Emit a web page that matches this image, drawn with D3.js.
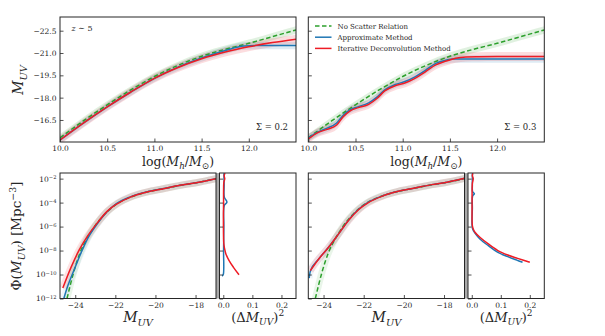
<!DOCTYPE html>
<html>
<head>
<meta charset="utf-8">
<script src="https://cdn.jsdelivr.net/npm/d3@7"></script>
<style>
  body { margin: 0; background: #fff; }
  svg { font-family: "DejaVu Serif", serif; }
</style>
</head>
<body>
<script>
// ---- top row: M_UV vs halo mass (z ~ 5) ----
var mhGrid = [10.0, 10.25, 10.5, 10.75, 11.0, 11.25, 11.5, 11.75, 12.0, 12.25, 12.5];
var noScatterMuv = [-15.3, -16.45, -17.52, -18.52, -19.42, -20.17, -20.78, -21.25, -21.65, -22.1, -22.55];

var iterMuvS02 = [-15.15, -16.3, -17.38, -18.38, -19.3, -20.03, -20.62, -21.07, -21.42, -21.7, -21.93];
var approxMhS02 = [10.0, 10.25, 10.5, 10.75, 11.0, 11.25, 11.5, 11.75, 11.95, 12.1, 12.5];
var approxMuvS02 = [-15.15, -16.3, -17.38, -18.38, -19.3, -20.05, -20.66, -21.17, -21.47, -21.5, -21.5];

var mhS03 = [10.0, 10.1, 10.2, 10.3, 10.37, 10.44, 10.53, 10.64, 10.73, 10.81, 10.92, 11.03, 11.13, 11.24, 11.35, 11.46, 11.56, 11.67, 11.8, 12.0, 12.5];
var iterMuvS03 = [-15.22, -15.65, -15.87, -16.16, -16.72, -17.1, -17.33, -17.55, -17.96, -18.45, -18.8, -19.0, -19.3, -19.74, -20.2, -20.46, -20.65, -20.73, -20.75, -20.76, -20.77];
var approxMhS03 = [10.0, 10.1, 10.2, 10.3, 10.37, 10.44, 10.53, 10.64, 10.73, 10.81, 10.92, 11.03, 11.13, 11.24, 11.35, 11.46, 11.53, 11.6, 12.5];
var approxMuvS03 = [-15.3, -15.68, -15.95, -16.3, -16.82, -17.18, -17.4, -17.65, -18.05, -18.52, -18.88, -19.1, -19.4, -19.84, -20.3, -20.52, -20.6, -20.6, -20.6];

// half-width of the shaded bands (mag)
var errNoScatter = 0.25, errApprox = 0.25, errIter = 0.3;

// ---- bottom row: luminosity functions (log10 Phi) ----
var muvObs = [-24.41, -24.08, -23.75, -23.42, -23.0, -22.4, -21.9, -21.25, -20.43, -19.6, -18.78, -17.96, -16.98];
var logPhiObs = [-12.0, -9.82, -8.15, -7.03, -5.91, -4.75, -4.08, -3.55, -3.12, -2.84, -2.57, -2.34, -2.0];

var muvIterS02 = [-24.62, -24.21, -23.8, -23.39, -22.9, -22.4, -21.91, -21.25, -20.43, -19.6, -18.78, -17.96, -16.98];
var logPhiIterS02 = [-11.13, -9.4, -7.95, -6.8, -5.69, -4.71, -4.1, -3.54, -3.12, -2.84, -2.56, -2.34, -2.0];
var muvApproxS02 = [-24.57, -24.37, -24.04, -23.7, -23.39, -22.9, -22.4, -21.91, -21.25, -20.43, -19.6, -18.78, -17.96, -16.98];
var logPhiApproxS02 = [-12.0, -10.94, -9.54, -8.15, -7.02, -5.77, -4.74, -4.05, -3.52, -3.11, -2.83, -2.56, -2.34, -2.0];

var muvIterS03 = [-24.66, -24.24, -23.75, -23.25, -22.76, -22.26, -21.77, -21.1, -20.28, -19.45, -18.62, -17.8, -16.97];
var logPhiIterS03 = [-9.68, -8.7, -7.73, -6.61, -5.49, -4.6, -4.0, -3.48, -3.06, -2.78, -2.5, -2.28, -1.97];
var muvApproxS03 = [-24.72, -24.66, -24.24, -23.75, -23.25, -22.76, -22.26, -21.77, -21.1, -20.28, -19.45, -18.62, -17.8, -16.97];
var logPhiApproxS03 = [-10.3, -9.72, -8.7, -7.73, -6.61, -5.47, -4.56, -3.96, -3.46, -3.06, -2.78, -2.5, -2.28, -1.97];

// residuals (Delta M_UV)^2 against log10 Phi
var resPhiIterS02 = [-1.55, -1.75, -2.0, -2.3, -3.0, -4.0, -5.0, -6.0, -7.0, -7.45, -7.9, -8.28, -8.84, -9.4, -10.02];
var resIterS02 = [0.006, 0.003, 0.005, 0.002, 0.001, 0.001, 0.0005, 0.0005, 0.001, 0.002, 0.005, 0.009, 0.02, 0.035, 0.054];
var resPhiApproxS02 = [-1.55, -2.5, -3.54, -3.96, -4.24, -6.0, -8.0, -10.0, -10.13];
var resApproxS02 = [0.002, 0.003, 0.0035, 0.0125, 0.0035, 0.002, 0.001, 0.0, -0.004];

var resPhiIterS03 = [-1.55, -1.75, -2.0, -2.4, -3.5, -4.5, -5.5, -5.91, -6.2, -6.47, -6.89, -7.45, -8.0, -8.37, -8.65, -8.98];
var resIterS03 = [0.004, 0.002, 0.005, 0.002, 0.001, 0.001, 0.001, 0.002, 0.005, 0.011, 0.028, 0.057, 0.09, 0.124, 0.158, 0.2];
var resPhiApproxS03 = [-1.55, -2.5, -3.1, -3.26, -3.45, -4.5, -5.9, -6.2, -6.55, -7.03, -7.59, -8.15, -8.51, -8.8, -8.98];
var resApproxS03 = [0.002, 0.002, 0.003, 0.009, 0.003, 0.002, 0.001, 0.003, 0.011, 0.028, 0.057, 0.09, 0.124, 0.155, 0.175];

// ticks
var mhTicks = [10.0, 10.5, 11.0, 11.5, 12.0];
var muvTicksTop = [-22.5, -21.0, -19.5, -18.0, -16.5];
var muvTicksBottom = [-24, -22, -20, -18];
var phiExpTicks = [-2, -4, -6, -8, -10, -12];
var resTicks = [0.0, 0.1, 0.2];

var legendLabels = ["No Scatter Relation", "Approximate Method", "Iterative Deconvolution Method"];

var green = "#2ca02c", blue = "#1f77b4", red = "#ee1c25", ink = "#262626";

var svg = d3.select("body").append("svg").attr("width", 605).attr("height", 336);

function pts(xs, ys) {
  return xs.map(function (v, i) { return {x: v, y: ys[i]}; });
}

var clipCount = 0;
function clipped(x0, y0, x1, y1) {
  var id = "clip" + (clipCount++);
  svg.append("clipPath").attr("id", id).append("rect")
    .attr("x", x0).attr("y", y0).attr("width", x1 - x0).attr("height", y1 - y0);
  return svg.append("g").attr("clip-path", "url(#" + id + ")");
}

function frame(x0, y0, x1, y1) {
  svg.append("rect")
    .attr("x", x0).attr("y", y0).attr("width", x1 - x0).attr("height", y1 - y0)
    .attr("fill", "none").attr("stroke", ink).attr("stroke-width", 1);
}

function styleAxis(g) {
  g.select(".domain").remove();
  g.selectAll(".tick line").attr("stroke", ink).attr("stroke-width", 0.8);
  g.selectAll(".tick text").attr("fill", ink).attr("font-size", 7.5)
    .attr("font-family", "DejaVu Serif, serif");
}

// math-ish label: parts = [[text, style]] style: r roman, i italic, sub, sup
function mathLabel(parent, parts, size) {
  var t = parent.append("text").attr("font-size", size).attr("fill", ink);
  var shift = 0;
  parts.forEach(function (p) {
    var s = t.append("tspan").text(p[0]);
    var st = p[1];
    var target = 0;
    if (st.indexOf("sub") >= 0) target = size * 0.3;
    if (st.indexOf("sup") >= 0) target = -size * 0.4;
    if (target !== shift) { s.attr("dy", target - shift); shift = target; }
    if (st.indexOf("i") >= 0) s.attr("font-style", "italic");
    if (st.indexOf("sub") >= 0 || st.indexOf("sup") >= 0) s.attr("font-size", size * 0.7);
  });
  return t;
}

function topPanel(x0, series, sigmaText) {
  var x1 = x0 + 236;
  var x = d3.scaleLinear().domain([10, 12.5]).range([x0, x1]);
  var y = d3.scaleLinear().domain([-15.02, -23.42]).range([142, 17]);
  var g = clipped(x0, 17, x1, 142);

  series.forEach(function (s) {
    var band = d3.area()
      .x(function (d) { return x(d.x); })
      .y0(function (d) { return y(d.y - s.err); })
      .y1(function (d) { return y(d.y + s.err); })
      .curve(d3.curveMonotoneX);
    g.append("path").attr("d", band(s.data)).attr("fill", s.color).attr("fill-opacity", 0.15);
  });
  var line = d3.line()
    .x(function (d) { return x(d.x); })
    .y(function (d) { return y(d.y); })
    .curve(d3.curveMonotoneX);
  series.forEach(function (s) {
    g.append("path").attr("d", line(s.data))
      .attr("fill", "none").attr("stroke", s.color).attr("stroke-width", 1.5)
      .attr("stroke-dasharray", s.dash);
  });

  var ax = svg.append("g").attr("transform", "translate(0,142)")
    .call(d3.axisBottom(x).tickValues(mhTicks).tickFormat(d3.format(".1f"))
      .tickSizeInner(-3.5).tickSizeOuter(0).tickPadding(4));
  styleAxis(ax);
  var ay = svg.append("g").attr("transform", "translate(" + x0 + ",0)")
    .call(d3.axisLeft(y).tickValues(muvTicksTop)
      .tickFormat(x0 < 100 ? d3.format(".1f") : function () { return ""; })
      .tickSizeInner(-3.5).tickSizeOuter(0).tickPadding(3.5));
  styleAxis(ay);
  frame(x0, 17, x1, 142);

  mathLabel(svg, [["log(", "r"], ["M", "i"], ["h", "i sub"], ["/", "r"], ["M", "i"], ["\u2299", "sub"], [")", "r"]], 12.5)
    .attr("x", (x0 + x1) / 2).attr("y", 165.5).attr("text-anchor", "middle");
  svg.append("text").attr("x", x1 - 8).attr("y", 130).attr("text-anchor", "end")
    .attr("font-size", 8.5).attr("fill", ink).text(sigmaText);
}

function bottomPanel(x0, x1, rx0, rx1, series, residuals) {
  var x = d3.scaleLinear().domain([-24.76, -16.98]).range([x0, x1]);
  var y = d3.scaleLog().domain([1e-12, Math.pow(10, -1.53)]).range([298.5, 173]);
  var rx = d3.scaleLinear().domain([-0.013, 0.25]).range([rx0, rx1]);
  var phiTicks = phiExpTicks.map(function (e) { return Math.pow(10, e); });

  var g = clipped(x0, 173, x1, 298.5);
  var line = d3.line()
    .x(function (d) { return x(d.x); })
    .y(function (d) { return y(Math.pow(10, d.y)); })
    .curve(d3.curveMonotoneX);
  series.forEach(function (s) {
    g.append("path").attr("d", line(s.data))
      .attr("fill", "none").attr("stroke", s.color).attr("stroke-opacity", s.halo)
      .attr("stroke-width", 7).attr("stroke-linejoin", "round");
  });
  series.forEach(function (s) {
    g.append("path").attr("d", line(s.data))
      .attr("fill", "none").attr("stroke", s.color).attr("stroke-width", 1.5)
      .attr("stroke-dasharray", s.dash);
  });

  var gr = clipped(rx0, 173, rx1, 298.5);
  var rline = d3.line()
    .x(function (d) { return rx(d.x); })
    .y(function (d) { return y(Math.pow(10, d.y)); })
    .curve(d3.curveCatmullRom);
  residuals.forEach(function (s) {
    gr.append("path").attr("d", rline(s.data))
      .attr("fill", "none").attr("stroke", s.color).attr("stroke-width", 1.5);
  });

  var ax = svg.append("g").attr("transform", "translate(0,298.5)")
    .call(d3.axisBottom(x).tickValues(muvTicksBottom).tickFormat(d3.format("d"))
      .tickSizeInner(-3.5).tickSizeOuter(0).tickPadding(4));
  styleAxis(ax);
  var arx = svg.append("g").attr("transform", "translate(0,298.5)")
    .call(d3.axisBottom(rx).tickValues(resTicks).tickFormat(d3.format(".1f"))
      .tickSizeInner(-3.5).tickSizeOuter(0).tickPadding(4));
  styleAxis(arx);

  var ay = svg.append("g").attr("transform", "translate(" + x0 + ",0)")
    .call(d3.axisLeft(y).tickValues(phiTicks).tickFormat(function () { return ""; })
      .tickSizeInner(-3.5).tickSizeOuter(0).tickPadding(3.5));
  styleAxis(ay);
  if (x0 < 100) {
    ay.selectAll(".tick text").each(function (d) {
      var t = d3.select(this);
      t.append("tspan").text("10");
      t.append("tspan").attr("dy", "-0.5em").attr("font-size", 5.2)
        .text("\u2212" + Math.abs(Math.round(Math.log10(d))));
    });
  }
  var ary = svg.append("g").attr("transform", "translate(" + rx0 + ",0)")
    .call(d3.axisLeft(y).tickValues(phiTicks).tickFormat(function () { return ""; })
      .tickSizeInner(-3.5).tickSizeOuter(0));
  styleAxis(ary);

  svg.append("rect").attr("x", x1).attr("y", 173).attr("width", rx0 - x1).attr("height", 125.5)
    .attr("fill", "#a8a8a8");
  frame(x0, 173, x1, 298.5);
  frame(rx0, 173, rx1, 298.5);

  mathLabel(svg, [["M", "i"], ["UV", "i sub"]], 14)
    .attr("x", (x0 + x1) / 2).attr("y", 321.5).attr("text-anchor", "middle");
  mathLabel(svg, [["(\u0394", "r"], ["M", "i"], ["UV", "i sub"], [")", "r"], ["2", "sup"]], 13)
    .attr("x", (rx0 + rx1) / 2).attr("y", 321.5).attr("text-anchor", "middle");
}

topPanel(60, [
  {data: pts(mhGrid, noScatterMuv), color: green, err: errNoScatter, dash: "4.5,2.5"},
  {data: pts(approxMhS02, approxMuvS02), color: blue, err: errApprox, dash: null},
  {data: pts(mhGrid, iterMuvS02), color: red, err: errIter, dash: null}
], "\u03A3 = 0.2");

topPanel(308.3, [
  {data: pts(mhGrid, noScatterMuv), color: green, err: errNoScatter, dash: "4.5,2.5"},
  {data: pts(approxMhS03, approxMuvS03), color: blue, err: errApprox, dash: null},
  {data: pts(mhS03, iterMuvS03), color: red, err: errIter, dash: null}
], "\u03A3 = 0.3");

bottomPanel(60, 216, 219.5, 296, [
  {data: pts(muvObs, logPhiObs), color: green, dash: "4.5,2.5", halo: 0.1},
  {data: pts(muvApproxS02, logPhiApproxS02), color: blue, dash: null, halo: 0.07},
  {data: pts(muvIterS02, logPhiIterS02), color: red, dash: null, halo: 0.12}
], [
  {data: pts(resApproxS02, resPhiApproxS02), color: blue},
  {data: pts(resIterS02, resPhiIterS02), color: red}
]);

bottomPanel(308.3, 464.5, 468, 544.3, [
  {data: pts(muvObs, logPhiObs), color: green, dash: "4.5,2.5", halo: 0.1},
  {data: pts(muvApproxS03, logPhiApproxS03), color: blue, dash: null, halo: 0.07},
  {data: pts(muvIterS03, logPhiIterS03), color: red, dash: null, halo: 0.12}
], [
  {data: pts(resApproxS03, resPhiApproxS03), color: blue},
  {data: pts(resIterS03, resPhiIterS03), color: red}
]);

// y labels
mathLabel(svg, [["M", "i"], ["UV", "i sub"]], 14)
  .attr("text-anchor", "middle").attr("transform", "translate(23,80) rotate(-90)");
mathLabel(svg, [["\u03A6(", "r"], ["M", "i"], ["UV", "i sub"], [") [Mpc", "r"], ["\u22123", "sup"], ["]", "r"]], 13.5)
  .attr("text-anchor", "middle").attr("transform", "translate(21,236) rotate(-90)");

// redshift note
mathLabel(svg, [["z", "i"], [" \u223C 5", "r"]], 8).attr("x", 71.5).attr("y", 31);

// legend
var legColors = [green, blue, red];
var legend = svg.append("g").selectAll("g").data(legendLabels).enter().append("g")
  .attr("transform", function (d, i) { return "translate(315," + (26 + i * 11.2) + ")"; });
legend.append("line").attr("x1", 0).attr("x2", 16.5)
  .attr("stroke", function (d, i) { return legColors[i]; })
  .attr("stroke-width", 1.5)
  .attr("stroke-dasharray", function (d, i) { return i === 0 ? "4.5,2.5" : null; });
legend.append("text").attr("x", 22.5).attr("y", 2.5)
  .attr("font-size", 7).attr("fill", ink).text(function (d) { return d; });
</script>
</body>
</html>
